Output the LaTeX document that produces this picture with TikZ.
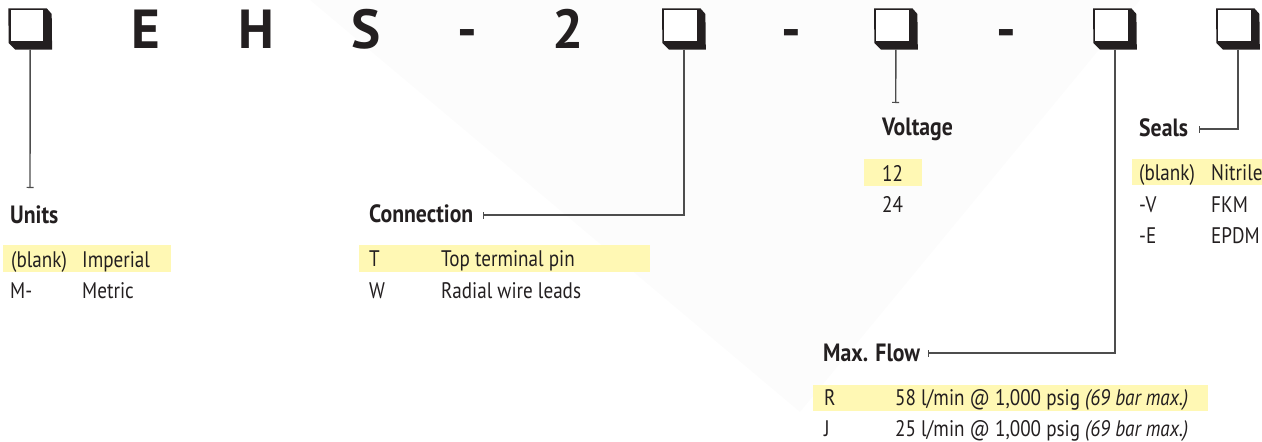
\documentclass[tikz,border=0pt]{standalone}
\usepackage{fontspec}
\setmainfont{PT Sans}[FakeStretch=0.85]
\newfontfamily\headfont{PT Sans}[FakeStretch=0.87]
\newfontfamily\codefont{PT Sans}
\usetikzlibrary{arrows.meta,calc}
\definecolor{ink}{RGB}{35,31,32}
\definecolor{wire}{RGB}{77,77,77}
\definecolor{hl}{RGB}{255,248,180}
\definecolor{bgtri}{RGB}{252,252,252}
\begin{document}
\begin{tikzpicture}[x=1pt,y=-1pt,
  code/.style={font=\codefont\bfseries\fontsize{55}{55}\selectfont, text=ink, inner sep=0, anchor=base},
  head/.style={font=\headfont\bfseries\fontsize{25}{25}\selectfont, text=ink, inner sep=0, anchor=base west},
  item/.style={font=\fontsize{22.5}{22.5}\selectfont, text=ink, inner sep=0, anchor=base west},
  hlbox/.style={fill=hl, draw=none},
  wireline/.style={draw=wire, line width=1.4pt, -{Bar[width=7pt,line width=1.2pt]}},
  codebox/.style={inner sep=0, minimum width=43.4pt, minimum height=41pt, anchor=north west}
]
\useasboundingbox (0,0) rectangle (1262,442);
\fill[bgtri] (310,0) -- (1140,0) -- (800,412) -- cycle;

% code boxes
\node[codebox] (b1) at (8.3,8.3) {};
\node[codebox] (b2) at (662,8.3) {};
\node[codebox] (b3) at (874,8.3) {};
\node[codebox] (b4) at (1093,8.3) {};
\node[codebox] (b5) at (1216,8.3) {};
\foreach \b in {b1,b2,b3,b4,b5}{
  \fill[ink] (\b.north west) -- ++(38.4,0) -- ++(5,5.7) -- (\b.south east) -- ++(-36.7,0) -- ++(-6.7,-6.6) -- cycle;
  \fill[white] ($(\b.north west)+(2.2,1.8)$) rectangle ($(\b.north west)+(35,32.4)$);
}

% code letters
\node[code] (cE) at (145.5,48) {E};
\node[code] (cH) at (256.5,48) {H};
\node[code] (cS) at (366.5,48) {S};
\node[code] (d1) at (467,48) {-};
\node[code] (c2) at (568,48) {2};
\node[code] (d2) at (791,48) {-};
\node[code] (d3) at (1006.5,48) {-};

% highlights
\fill[hlbox] (3,245) rectangle (171,272);
\fill[hlbox] (359,245) rectangle (650,272);
\fill[hlbox] (864,159) rectangle (922,186);
\fill[hlbox] (1132,159) rectangle (1262,185);
\fill[hlbox] (813,385) rectangle (1208,411);

% connector ends
\coordinate (uend) at (30,188);
\coordinate (cend) at (483,215);
\coordinate (vend) at (895.7,103);
\coordinate (mend) at (928,353);
\coordinate (send) at (1199,129);
\draw[wireline] (b1.south) -- (uend);
\draw[wireline] (b2.south) |- (cend);
\draw[wireline] (b3.south) -- (vend);
\draw[wireline] (b4.south) |- (mend);
\draw[wireline] (b5.south) |- (send);

% Units
\node[head] (hunits) at (10,223) {Units};
\node[item] (u1a) at (11,267) {(blank)};
\node[item] (u1b) at (82,267) {Imperial};
\node[item] (u2a) at (10,298) {M-};
\node[item] (u2b) at (82,298) {Metric};

% Connection
\node[head] (hconn) at (369,222) {Connection};
\node[item] (c1a) at (369,266) {T};
\node[item] (c1b) at (441,266) {Top terminal pin};
\node[item] (c2a) at (369,298) {W};
\node[item] (c2b) at (441,298) {Radial wire leads};

% Voltage
\node[head] (hvolt) at (882,135) {Voltage};
\node[item] (v1) at (882,181) {12};
\node[item] (v2) at (882,212) {24};

% Seals
\node[head] (hseal) at (1139,136) {Seals};
\node[item] (s1a) at (1139,180) {(blank)};
\node[item] (s1b) at (1211,180) {Nitrile};
\node[item] (s2a) at (1139,212) {-V};
\node[item] (s2b) at (1211,212) {FKM};
\node[item] (s3a) at (1139,243) {-E};
\node[item] (s3b) at (1211,243) {EPDM};

% Max. Flow
\node[head] (hflow) at (823,361) {Max. Flow};
\node[item] (f1a) at (824,405) {R};
\node[item] (f1b) at (895,405) {58 l/min @ 1,000 psig \textit{(69 bar max.)}};
\node[item] (f2a) at (824,436) {J};
\node[item] (f2b) at (895,436) {25 l/min @ 1,000 psig \textit{(69 bar max.)}};
\end{tikzpicture}
\end{document}
